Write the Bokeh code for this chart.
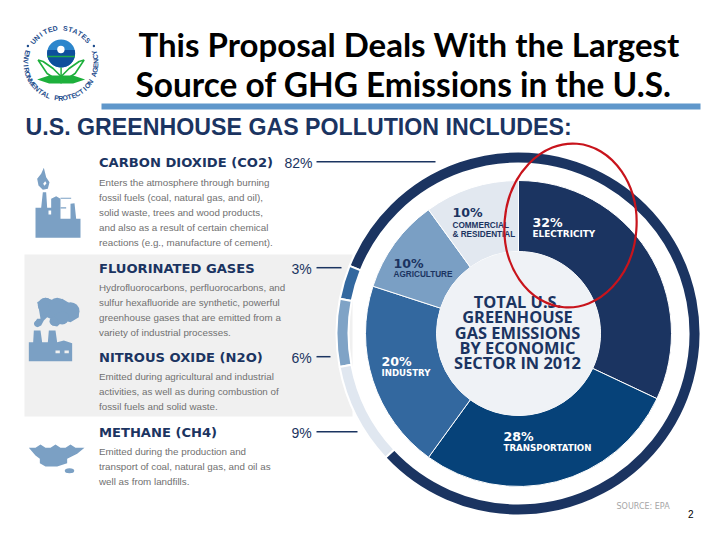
import numpy as np
from bokeh.core.properties import value
from bokeh.embed import file_html
from bokeh.models import Range1d
from bokeh.plotting import figure
from bokeh.resources import INLINE

# ---- data ----
sector_names = ["Electricity", "Transportation", "Industry", "Agriculture", "Commercial & Residential"]
sector_values = [32, 28, 20, 10, 10]
sector_colors = ["#1b3461", "#064279", "#33689f", "#7a9fc4", "#e2e8f0"]

gas_names = ["Carbon dioxide", "Fluorinated gases", "Nitrous oxide", "Methane"]
gas_values = [82, 3, 6, 9]
gas_colors = ["#1b3461", "#33689f", "#7fa3c6", "#e0e7f0"]
gas_labels = ["82%", "3%", "6%", "9%"]
gas_heads = ["CARBON DIOXIDE (CO2)", "FLUORINATED GASES", "NITROUS OXIDE (N2O)", "METHANE (CH4)"]
gas_body = [
    ["Enters the atmosphere through burning", "fossil fuels (coal, natural gas, and oil),",
     "solid waste, trees and wood products,", "and also as a result of certain chemical",
     "reactions (e.g., manufacture of cement)."],
    ["Hydrofluorocarbons, perfluorocarbons, and", "sulfur hexafluoride are synthetic, powerful",
     "greenhouse gases that are emitted from a", "variety of industrial processes."],
    ["Emitted during agricultural and industrial", "activities, as well as during combustion of",
     "fossil fuels and solid waste."],
    ["Emitted during the production and", "transport of coal, natural gas, and oil as",
     "well as from landfills."],
]
title_lines = ["This Proposal Deals With the Largest", "Source of GHG Emissions in the U.S."]
heading = "U.S. GREENHOUSE GAS POLLUTION INCLUDES:"
center_lines = ["TOTAL U.S.", "GREENHOUSE", "GAS EMISSIONS", "BY ECONOMIC", "SECTOR IN 2012"]

NAVY = "#1b3461"
ICON = "#7ba0c4"
CX, CY = 518, 333

p = figure(width=704, height=524, output_backend="svg", toolbar_location=None,
           x_range=Range1d(0, 704), y_range=Range1d(524, 0),
           min_border=0, outline_line_color=None, background_fill_color="white",
           border_fill_color="white")
p.axis.visible = False
p.grid.visible = False


def txt(x, y, s, size, color="#000000", font="Liberation Sans", style="normal", align="left"):
    p.text(x=[x], y=[y - 0.35 * size], text=[s], text_font=value(font), text_font_size=f"{size}px",
           text_font_style=style, text_color=color, text_align=align, text_baseline="middle")


def poly(points, origin, color, scale=3.0):
    pts = np.array(points, dtype=float)
    p.patch(origin[0] + pts[:, 0] / scale, origin[1] + pts[:, 1] / scale, fill_color=color, line_color=None)


# ---- page furniture ----
p.quad(left=[24], right=[352], top=[254], bottom=[416], fill_color="#f0f0f0", line_color=None)
p.quad(left=[101], right=[700], top=[103], bottom=[109], fill_color="#5f97cb", line_color=None)
txt(138, 55, title_lines[0], 33, font="Lato", style="bold")
txt(135, 95, title_lines[1], 33.4, font="Lato", style="bold")
txt(25, 135, heading, 23.2, color=NAVY, style="bold")

# ---- rings ----
ang = np.cumsum([0] + sector_values) / 100 * 360
p.annular_wedge(x=CX, y=CY, inner_radius=82, outer_radius=153,
                start_angle=np.radians(90 - ang[:-1]), end_angle=np.radians(90 - ang[1:]),
                direction="clock", fill_color=sector_colors, line_color="white", line_width=1)
p.circle(x=[CX], y=[CY], radius=82, fill_color="#eff2f6", line_color=None)

gang = 227 - np.cumsum([0] + gas_values) / 100 * 360
p.annular_wedge(x=CX, y=CY, inner_radius=170, outer_radius=182,
                start_angle=np.radians(90 - gang[:-1]), end_angle=np.radians(90 - gang[1:]),
                direction="anticlock", fill_color=gas_colors, line_color="white", line_width=2)

# ---- sector labels ----
PCT = dict(size=12.6, font="DejaVu Sans", style="bold")
SUB = dict(font="DejaVu Sans", style="bold")
txt(532, 226, f"{sector_values[0]}%", color="white", **PCT)
txt(532, 236.7, "ELECTRICITY", 8.9, color="white", **SUB)
txt(452, 216.7, f"{sector_values[4]}%", color=NAVY, **PCT)
txt(452, 227.7, "COMMERCIAL", 8.2, color=NAVY, font="Liberation Sans", style="bold")
txt(452, 237.3, "& RESIDENTIAL", 8.2, color=NAVY, font="Liberation Sans", style="bold")
txt(393, 267, f"{sector_values[3]}%", color=NAVY, **PCT)
txt(393, 277, "AGRICULTURE", 8.2, color=NAVY, font="Liberation Sans", style="bold")
txt(381, 365, f"{sector_values[2]}%", color="white", **PCT)
txt(381, 375.3, "INDUSTRY", 8.6, color="white", **SUB)
txt(503, 440, f"{sector_values[1]}%", color="white", **PCT)
txt(503, 450.7, "TRANSPORTATION", 8.7, color="white", **SUB)

for yy, line in zip([306.7, 321.7, 337.3, 352.7, 367.3], center_lines):
    txt(517, yy, line, 16.4, color=NAVY, font="Open Sans", style="bold", align="center")

# ---- gas list ----
head_y = [166.7, 272.7, 361.7, 436.7]
pct_x = [284, 291, 291, 291]
line_end = [435, 341, 330, 357]
body_start = [185.3, 290, 379, 454]
for i in range(4):
    txt(98.5, head_y[i], gas_heads[i], 13.1, color=NAVY, font="DejaVu Sans", style="bold")
    txt(pct_x[i], head_y[i] + 0.3, gas_labels[i], 14, color=NAVY)
    p.segment(x0=[316], x1=[line_end[i]], y0=[head_y[i] - 5.5], y1=[head_y[i] - 5.5], line_color=NAVY, line_width=1.5)
    for j, line in enumerate(gas_body[i]):
        txt(98.5, body_start[i] + 15 * j, line, 9.8, color="#707070")

# ---- icons ----
o = (24, 160)
poly([(33, 232), (33, 142), (50, 142), (55, 95), (65, 95), (68, 142), (80, 142), (80, 115), (95, 107),
      (108, 115), (108, 175), (138, 175), (138, 130), (150, 128), (155, 175), (168, 175), (168, 232)], o, ICON)
poly([(58, 22), (65, 50), (75, 65), (70, 85), (55, 88), (42, 75), (38, 55), (50, 40)], o, ICON)
poly([(62, 62), (66, 68), (60, 76), (56, 70)], o, "white")
poly([(108, 112), (140, 112), (140, 115), (108, 115)], o, ICON)
poly([(108, 140), (125, 140), (125, 144), (108, 144)], o, ICON)
poly([(72, 150), (80, 150), (80, 162), (72, 162)], o, "white")

o = (20, 290)
poly([(25, 212), (25, 155), (38, 155), (40, 120), (60, 120), (65, 155), (82, 155), (85, 120), (105, 120),
      (110, 155), (130, 150), (155, 158), (155, 212)], o, ICON)
poly([(105, 180), (118, 180), (118, 188), (105, 188)], o, "#f0f0f0")
poly([(132, 180), (145, 180), (145, 188), (132, 188)], o, "#f0f0f0")
poly([(40, 100), (50, 85), (60, 85), (55, 55), (50, 35), (75, 22), (100, 30), (125, 25), (150, 40),
      (175, 55), (175, 80), (150, 95), (130, 90), (110, 108), (95, 105), (90, 85), (80, 80), (70, 90),
      (62, 105), (50, 110)], o, ICON)
cloud_x = [75, 110, 150, 125, 100, 50]
cloud_y = [45, 48, 62, 82, 92, 100]
cloud_r = [23, 26, 27, 20, 13, 9]
p.circle(x=[o[0] + v / 3 for v in cloud_x], y=[o[1] + v / 3 for v in cloud_y], radius=[v / 3 for v in cloud_r],
         fill_color=ICON, line_color=None)

o = (20, 430)
poly([(25, 52), (45, 52), (60, 42), (75, 52), (90, 52), (105, 42), (120, 52), (135, 52), (150, 42),
      (165, 52), (192, 52), (170, 70), (140, 85), (140, 98), (110, 108), (75, 108), (58, 98), (58, 85),
      (45, 75)], o, ICON)
p.ellipse(x=[20 + 147 / 3], y=[430 + 121 / 3], width=[9.5], height=[5], fill_color=ICON, line_color=None)


# ---- seal ----
def seal_char(ch, th, text_angle):
    r = np.radians(th)
    p.text(x=[SX + SR * np.sin(r)], y=[SY - SR * np.cos(r)], text=[ch], text_font=value("Liberation Sans"),
           text_font_size="7px", text_font_style="bold", text_color="#1d4c8c", text_align="center",
           text_baseline="middle", angle=[np.radians(text_angle)])


SX, SY, SR = 60.4, 62.5, 35.0
top = "UNITED STATES"
for ch, th in zip(top, np.linspace(-52, 50, len(top))):
    seal_char(ch, th, -th)
bottom = "ENVIRONMENTAL PROTECTION AGENCY"
for ch, th in zip(bottom, np.linspace(287, 73, len(bottom))):
    seal_char(ch, th, 180 - th)
p.circle(x=[SX - 33, SX + 33], y=[SY - 17, SY - 17], radius=1.2, fill_color="#1d4c8c", line_color=None)
p.circle(x=[60.6], y=[53], radius=14, fill_color="#2c86cc", line_color=None)
t = np.linspace(np.radians(-15), np.radians(195), 40)
p.patch(60.6 + 14 * np.cos(t), 53 + 14 * np.sin(t), fill_color="#0e4f9c", line_color=None)
p.segment(x0=[47], x1=[74.4], y0=[56], y1=[56], line_color="#1fa84a", line_width=1.5)
p.circle(x=[60.4], y=[49], radius=3.7, fill_color="white", line_color=None)
p.segment(x0=[60.6], x1=[60.6], y0=[67], y1=[83], line_color="#1db03c", line_width=1.5)
for sgn in (-1, 1):
    p.patch(60.6 + sgn * np.array([0, 8, 18, 23, 14, 5]), np.array([76, 68, 61, 59.5, 73, 79]),
            fill_color="white", line_color="#1db03c", line_width=1.6)
    p.patch(60.6 + sgn * np.array([0, 12, 24, 12, 0]), np.array([75, 75, 79, 83, 83]),
            fill_color="#1db03c", line_color=None)

# ---- annotations ----
txt(616, 509, "SOURCE: EPA", 8, color="#a6a6a6", font="DejaVu Sans")
txt(687.5, 517, "2", 10)
p.ellipse(x=[570], y=[225], width=[132], height=[164], angle=[-0.08], fill_color=None,
          line_color="#c8141c", line_width=2.2)

open("out.html", "w").write(file_html(p, INLINE))
